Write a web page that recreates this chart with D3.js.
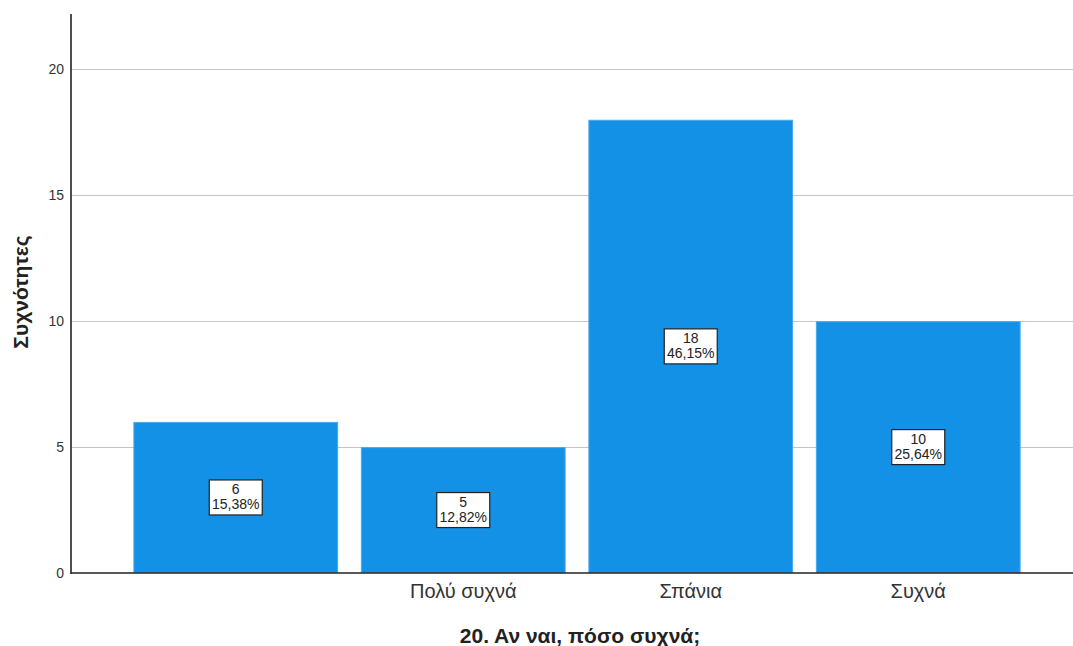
<!DOCTYPE html>
<html>
<head>
<meta charset="utf-8">
<script src="https://cdn.jsdelivr.net/npm/d3@7"></script>
<style>
  html, body { margin: 0; padding: 0; background: #fff; }
  svg { display: block; font-family: "Liberation Sans", Arial, sans-serif; }
</style>
</head>
<body>
<svg id="chart" width="1073" height="646"></svg>
<script>
// Frequencies for question 20
const categories = ["", "Πολύ συχνά", "Σπάνια", "Συχνά"];
const counts = [6, 5, 18, 10];
const percents = ["15,38%", "12,82%", "46,15%", "25,64%"];
const yTicks = [0, 5, 10, 15, 20];
const xTitle = "20. Αν ναι, πόσο συχνά;";
const yTitle = "Συχνότητες";

const svg = d3.select("#chart");
const plot = { left: 71, right: 1073, top: 14, bottom: 573 };

const y = d3.scaleLinear().domain([0, 22.2]).range([plot.bottom, plot.top]);
const x = d3.scaleBand()
  .domain(d3.range(categories.length))
  .range([122, 1032])
  .paddingInner(0.1)
  .paddingOuter(0.05);

// Gridlines
svg.append("g")
  .selectAll("line")
  .data(yTicks.filter(d => d > 0))
  .join("line")
  .attr("x1", plot.left).attr("x2", plot.right)
  .attr("y1", d => Math.round(y(d)) + 0.5).attr("y2", d => Math.round(y(d)) + 0.5)
  .attr("stroke", "#c4c4c4").attr("stroke-width", 1.2);

// Bars
svg.append("g")
  .selectAll("rect")
  .data(counts)
  .join("rect")
  .attr("x", (d, i) => x(i) + 0.5)
  .attr("y", d => y(d) + 0.5)
  .attr("width", x.bandwidth() - 1)
  .attr("height", d => y(0) - y(d) - 1)
  .attr("fill", "#1391e6")
  .attr("stroke", "#4aa8ee")
  .attr("stroke-width", 1);

// Y axis
const yAxis = d3.axisLeft(y).tickValues(yTicks).tickSize(0).tickPadding(7);
const gy = svg.append("g").attr("transform", `translate(${plot.left},0)`).call(yAxis);
gy.select(".domain").remove();
gy.selectAll("text").attr("font-size", 14).attr("fill", "#333").attr("font-family", "Liberation Sans, Arial, sans-serif");
svg.append("line")
  .attr("x1", plot.left).attr("x2", plot.left)
  .attr("y1", plot.top).attr("y2", plot.bottom + 1)
  .attr("stroke", "#222").attr("stroke-width", 1.6);

// X axis
const xAxis = d3.axisBottom(x).tickFormat(i => categories[i]).tickSize(0).tickPadding(11);
const gx = svg.append("g").attr("transform", `translate(0,${plot.bottom})`).call(xAxis);
gx.select(".domain").remove();
gx.selectAll("text").attr("font-size", 20).attr("fill", "#333").attr("font-family", "Liberation Sans, Arial, sans-serif");
svg.append("line")
  .attr("x1", plot.left).attr("x2", plot.right)
  .attr("y1", plot.bottom).attr("y2", plot.bottom)
  .attr("stroke", "#222").attr("stroke-width", 1.6);

// Value labels
const labels = svg.append("g")
  .selectAll("g")
  .data(counts)
  .join("g")
  .attr("transform", (d, i) => `translate(${x(i) + x.bandwidth() / 2},${(y(d) + y(0)) / 2})`);
labels.append("rect")
  .attr("x", -26.5).attr("y", -17.5)
  .attr("width", 53).attr("height", 35)
  .attr("fill", "#fff").attr("stroke", "#222").attr("stroke-width", 1.2);
labels.append("text")
  .attr("text-anchor", "middle").attr("y", -3)
  .attr("font-size", 14).attr("fill", "#222")
  .text(d => d);
labels.append("text")
  .attr("text-anchor", "middle").attr("y", 12)
  .attr("font-size", 14).attr("fill", "#222")
  .text((d, i) => percents[i]);

// Axis titles
svg.append("text")
  .attr("x", 580).attr("y", 643)
  .attr("text-anchor", "middle")
  .attr("font-size", 21).attr("font-weight", "bold").attr("fill", "#222")
  .text(xTitle);
svg.append("text")
  .attr("transform", "translate(28,292) rotate(-90)")
  .attr("text-anchor", "middle")
  .attr("font-size", 21).attr("font-weight", "bold").attr("fill", "#222")
  .text(yTitle);
</script>
</body>
</html>
